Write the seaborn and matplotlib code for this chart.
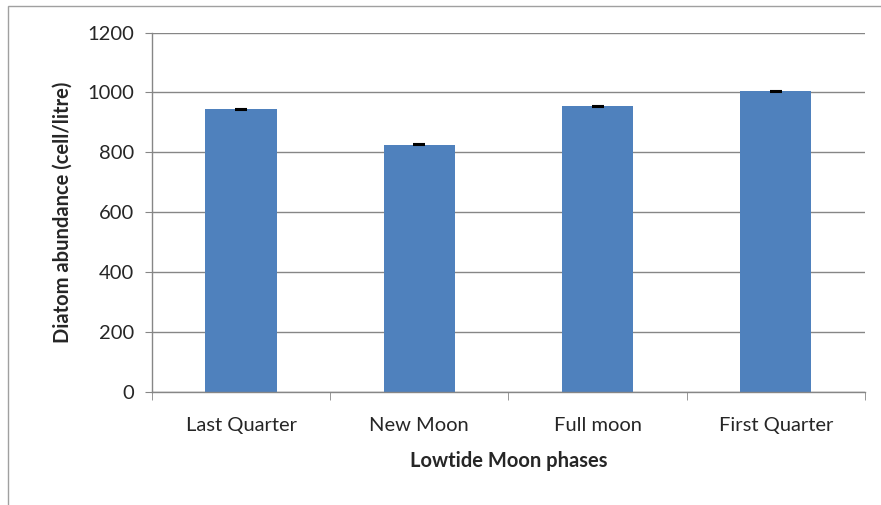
import pandas as pd
import matplotlib.pyplot as plt
import seaborn as sns
from matplotlib.patches import Rectangle

phases = ['Last Quarter', 'New Moon', 'Full moon', 'First Quarter']
abundance = [944, 826, 954, 1004]
errors = [1.5, 1.5, 1.5, 1.5]

sns.set_style('white')
plt.rcParams['font.family'] = ['Lato', 'DejaVu Sans']

df = pd.DataFrame({'phase': phases, 'abundance': abundance})

fig = plt.figure(figsize=(8.81, 5.05), dpi=100)
ax = fig.add_axes([0.1725, 0.2238, 0.8093, 0.7118])

sns.barplot(data=df, x='phase', y='abundance', color='#4F81BD', saturation=1,
            width=0.40, errorbar=None, linewidth=0, ax=ax)
ax.errorbar(range(len(phases)), abundance, yerr=errors, fmt='none',
            ecolor='black', elinewidth=1, capsize=4.3, capthick=1.5, zorder=3)

ax.set_ylim(0, 1200)
ax.set_xlim(-0.5, 3.5)
ax.set_yticks(range(0, 1201, 200))
ax.yaxis.grid(True, color='#868686', linewidth=1)
ax.set_axisbelow(True)

for s in ['top', 'right']:
    ax.spines[s].set_visible(False)
for s in ['left', 'bottom']:
    ax.spines[s].set_color('#868686')
    ax.spines[s].set_linewidth(1)

ax.tick_params(axis='y', length=5, color='#868686', labelsize=14.5, pad=8, direction='out', left=True)
ax.set_xticks([-0.5, 0.5, 1.5, 2.5, 3.5], minor=True)
ax.tick_params(axis='x', which='minor', length=6, color='#868686', direction='out', bottom=True)
ax.tick_params(axis='x', which='major', length=0, labelsize=14.5, pad=18)

ax.set_xlabel('Lowtide Moon phases', fontsize=14.5, fontweight='bold', labelpad=12)
ax.set_ylabel('Diatom abundance (cell/litre)', fontsize=14.5, fontweight='bold', labelpad=10)

fig.patches.append(Rectangle((8 / 881, -0.1), 1.2, 1 - 6 / 505 + 0.1,
                             transform=fig.transFigure, fill=False,
                             edgecolor='#A0A0A0', linewidth=1))

fig.savefig('out.png', dpi=100)
